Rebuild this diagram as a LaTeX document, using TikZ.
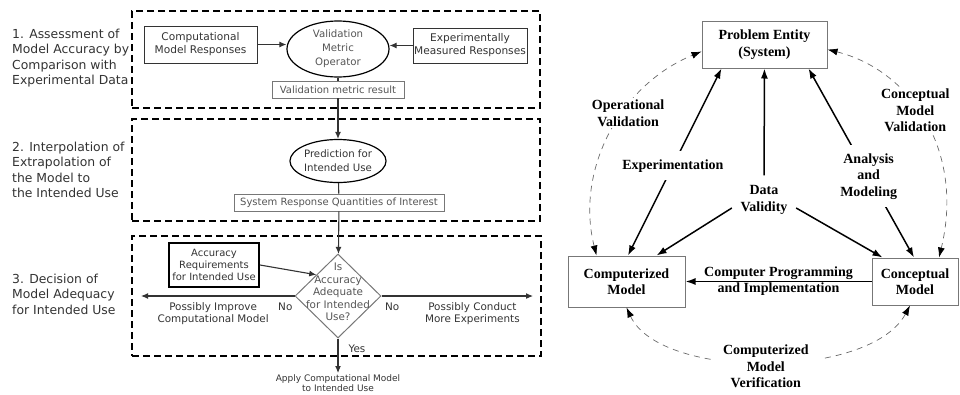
\documentclass[tikz,border=0pt]{standalone}
\usepackage{fontspec}
\newfontfamily\lfont{DejaVu Sans}
\newfontfamily\rfont{Liberation Serif}
\usetikzlibrary{positioning, arrows.meta, shapes.geometric}

\definecolor{inkdark}{HTML}{333333}
\definecolor{inkgray}{HTML}{555555}
\definecolor{framegray}{HTML}{777777}
\definecolor{arcgray}{HTML}{6A6A6A}

\begin{document}
\begin{tikzpicture}[x=1pt, y=-1pt,
    every node/.style={align=center},
    stagebox/.style={draw, line width=1.8pt, dash pattern=on 7pt off 4pt, minimum width=408pt, inner sep=0pt},
    seclabel/.style={anchor=west, align=left, inner sep=0pt, font=\lfont\fontsize{12.4}{15.5}\selectfont, text=inkdark},
    inbox/.style={rectangle, draw=inkdark, line width=1pt, inner sep=0pt, font=\lfont\fontsize{10.6}{13}\selectfont, text=inkdark},
    result/.style={rectangle, draw=framegray, line width=0.8pt, inner sep=0pt, minimum height=17pt, font=\lfont\fontsize{10}{12}\selectfont, text=inkgray},
    oper/.style={ellipse, draw=black, line width=1.2pt, inner sep=0pt, font=\lfont\fontsize{10.2}{14}\selectfont, text=inkgray},
    decision/.style={diamond, draw=framegray, line width=1pt, inner sep=0pt, minimum width=86pt, minimum height=84pt},
    choice/.style={inner sep=2pt, font=\lfont\fontsize{10.4}{12.5}\selectfont, text=inkdark},
    flow/.style={line width=1.1pt, draw=inkdark},
    arr/.style={flow, -{Latex[length=7pt, width=6pt]}},
    entity/.style={rectangle, draw=framegray, line width=1pt, font=\rfont\bfseries\fontsize{14}{16.5}\selectfont},
    tag/.style={inner sep=2pt, font=\rfont\bfseries\fontsize{14}{16.5}\selectfont},
    solidarr/.style={line width=1.5pt, -{Latex[length=10pt, width=7pt]}},
    twoway/.style={line width=1.5pt, {Latex[length=10pt, width=7pt]}-{Latex[length=10pt, width=7pt]}},
    valarc/.style={line width=0.7pt, draw=arcgray, dash pattern=on 6pt off 5pt,
      {Latex[length=10pt, width=7pt, color=black]}-{Latex[length=10pt, width=7pt, color=black]}}]

  \useasboundingbox (0,0) rectangle (960,394);

  % left: three stages
  \node[stagebox, minimum height=97pt] (st1) at (336,59.5) {};
  \node[stagebox, minimum height=102pt] (st2) at (336,170) {};
  \node[stagebox, minimum height=120pt, minimum width=409pt] (st3) at (336.5,296) {};

  \node[seclabel] (lab1) at (12,58) {1. Assessment of\\Model Accuracy by\\Comparison with\\Experimental Data};
  \node[seclabel] (lab2) at (12,170) {2. Interpolation of\\Extrapolation of\\the Model to\\the Intended Use};
  \node[seclabel] (lab3) at (12,294) {3. Decision of\\Model Adequacy\\for Intended Use};

  \node[oper, minimum width=102pt, minimum height=56pt] (vmo) at (338,49) {Validation\\Metric\\Operator};
  \node[inbox, minimum width=113pt, minimum height=37pt] (cmr) at (200.5,44.5) {Computational\\Model Responses};
  \node[inbox, minimum width=114pt, minimum height=35pt] (emr) at (470,45.5) {Experimentally\\Measured Responses};
  \node[result, minimum width=132pt] (vmr) at (338,89.5) {Validation metric result};

  \node[oper, text=inkdark, minimum width=95pt, minimum height=43pt] (pfu) at (338,161) {Prediction for\\Intended Use};
  \node[result, minimum width=210pt] (srq) at (339,202.5) {System Response Quantities of Interest};

  \node[decision] (adq) at (338,296) {};
  \node[choice, text=inkgray] (adqtext) at ([yshift=4pt]adq.center) {Is\\Accuracy\\Adequate\\for Intended\\Use?};
  \node[inbox, draw=black, line width=2pt, minimum width=90pt, minimum height=44pt,
    font=\lfont\fontsize{10}{12}\selectfont] (arq) at (214,265) {Accuracy\\Requirements\\for Intended Use};
  \coordinate (improve) at (141,296);
  \coordinate (conduct) at (533,296);
  \node[choice, anchor=north, inner sep=1pt, font=\lfont\fontsize{9}{10}\selectfont] (apply) at (338,373) {Apply Computational Model\\to Intended Use};

  \draw[arr] (cmr.east) -- (cmr.east -| vmo.west);
  \draw[arr] (emr.west) -- (emr.west -| vmo.east);
  \draw[flow] (vmo) -- (vmr);
  \draw[arr] (vmr) -- (pfu);
  \draw[flow] (pfu) -- (srq);
  \draw[arr] (srq) -- (adq);
  \draw[arr] (arq.east) -- (adq.north west);
  \draw[arr] (adq.west) -- node[choice, pos=0.06, below=4pt] {No}
    node[choice, pos=0.53, below=4pt] {Possibly Improve\\Computational Model} (improve);
  \draw[arr] (adq.east) -- node[choice, pos=0.07, below=4pt] {No}
    node[choice, pos=0.6, below=4pt] {Possibly Conduct\\More Experiments} (conduct);
  \draw[arr] (adq) -- node[choice, pos=0.3, right=8pt] {Yes} (apply);

  % right: modeling process
  \node[entity, minimum width=125pt, minimum height=47pt] (prob) at (764.5,44.5) {Problem Entity\\(System)};
  \node[entity, minimum width=117pt, minimum height=51pt] (comp) at (626.5,281.5) {Computerized\\Model};
  \node[entity, minimum width=86pt, minimum height=47pt] (concept) at (915,281.5) {Conceptual\\Model};
  \node[tag, inner xsep=8.5pt, inner ysep=10pt] (dv) at (764,200) {Data\\Validity};

  \draw[twoway] ([xshift=1.5pt]comp.north) -- node[tag, pos=0.48, fill=white, inner ysep=8pt] {Experimentation} ([xshift=20pt]prob.south west);
  \draw[twoway] ([xshift=-1pt]concept.north) -- node[tag, pos=0.43, fill=white, inner ysep=8pt] {Analysis\\and\\Modeling} ([xshift=-19pt]prob.south east);
  \draw[solidarr] (dv) -- (prob);
  \draw[solidarr] ([yshift=-8pt]dv.west) -- ([xshift=30pt]comp.north);
  \draw[solidarr] ([yshift=-8pt]dv.east) -- ([xshift=11pt]concept.north west);
  \draw[solidarr] (concept) -- node[tag, above, inner sep=1pt] {Computer Programming}
    node[tag, below, inner sep=1pt] {and Implementation} (comp);

  \draw[valarc] ([xshift=29pt]comp.north west) .. controls (575,170) and (620,85) ..
    node[tag, pos=0.6, xshift=5pt, fill=white] {Operational\\Validation} ([yshift=-7pt]prob.west);
  \draw[valarc] ([yshift=-5pt]prob.east) .. controls (910,70) and (965,150) ..
    node[tag, pos=0.45, xshift=-2pt, fill=white] {Conceptual\\Model\\Validation} ([xshift=24pt]concept.north);
  \draw[valarc] (comp.south) .. controls (660,380) and (870,380) ..
    node[tag, pos=0.5, yshift=-5pt, fill=white, inner xsep=12pt] {Computerized\\Model\\Verification} ([xshift=-5pt]concept.south);
\end{tikzpicture}
\end{document}
